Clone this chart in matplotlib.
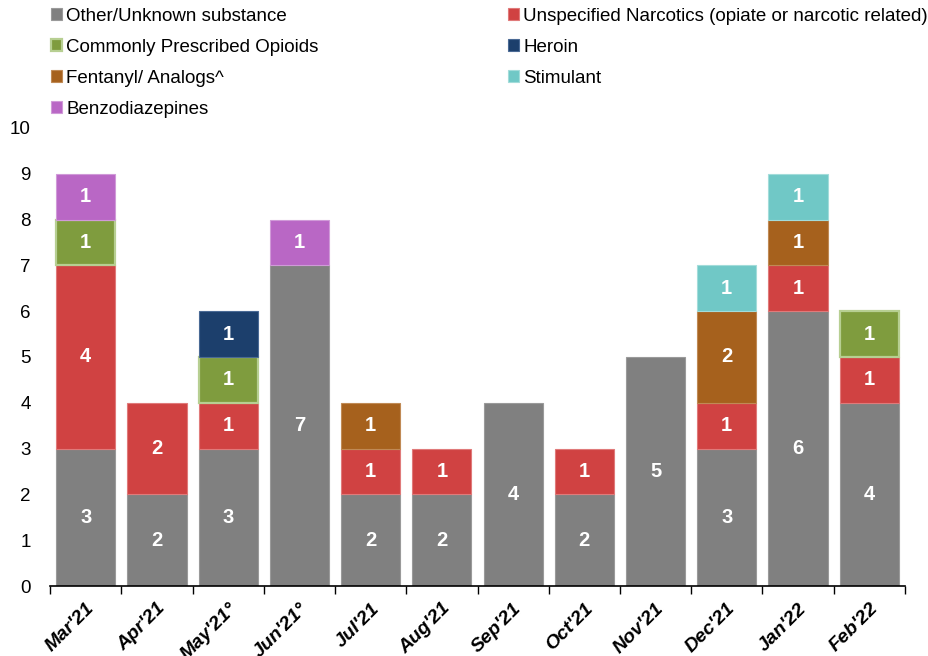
import matplotlib
matplotlib.use("Agg")
import matplotlib.pyplot as plt
import numpy as np
from matplotlib.patches import Patch

plt.rcParams['font.family'] = ['Liberation Sans', 'DejaVu Sans']

months = ["Mar'21", "Apr'21", "May'21°", "Jun'21°", "Jul'21", "Aug'21",
          "Sep'21", "Oct'21", "Nov'21", "Dec'21", "Jan'22", "Feb'22"]

other      = [3, 2, 3, 7, 2, 2, 4, 2, 5, 3, 6, 4]
unspec     = [4, 2, 1, 0, 1, 1, 0, 1, 0, 1, 1, 1]
prescribed = [1, 0, 1, 0, 0, 0, 0, 0, 0, 0, 0, 1]
heroin     = [0, 0, 1, 0, 0, 0, 0, 0, 0, 0, 0, 0]
fentanyl   = [0, 0, 0, 0, 1, 0, 0, 0, 0, 2, 1, 0]
stimulant  = [0, 0, 0, 0, 0, 0, 0, 0, 0, 1, 1, 0]
benzo      = [1, 0, 0, 1, 0, 0, 0, 0, 0, 0, 0, 0]

series_names = ["Other/Unknown substance",
                "Unspecified Narcotics (opiate or narcotic related)",
                "Commonly Prescribed Opioids", "Heroin", "Fentanyl/ Analogs^",
                "Stimulant", "Benzodiazepines"]
series_vals = [other, unspec, prescribed, heroin, fentanyl, stimulant, benzo]
colors = ["#808080", "#D04242", "#7F9C3E", "#1C3F6C", "#A6611D", "#70C8C6", "#B967C5"]
edges = ["#9a9a9a", "#e07a7a", "#b7cf92", "#4a6a95", "#c08a55", "#a3dcda", "#d09ad8"]
lws = [0.8, 0.8, 1.6, 0.8, 0.8, 0.8, 0.8]

fig = plt.figure(figsize=(9.29, 6.56), dpi=100)
ax = fig.add_axes([0.054, 0.1067, 0.92, 0.6983])

x = np.arange(len(months))
bottom = np.zeros(len(months))
handles = []
for name, vals, c, ec, lw in zip(series_names, series_vals, colors, edges, lws):
    vals = np.array(vals, dtype=float)
    mask = vals > 0
    ax.bar(x[mask], vals[mask], width=0.83, bottom=bottom[mask], color=c,
           edgecolor=ec, linewidth=lw)
    for xi, v, b in zip(x[mask], vals[mask], bottom[mask]):
        ax.text(xi, b + v / 2, f"{int(v)}", ha='center', va='center',
                color='white', fontsize=14.5, fontweight='bold')
    bottom += vals
    handles.append(Patch(facecolor=c, edgecolor=ec, linewidth=lw, label=name))

ax.set_xlim(-0.5, len(months) - 0.5)
ax.set_ylim(0, 10)
ax.set_yticks(range(0, 11))
ax.tick_params(axis='y', length=0, labelsize=13.5, pad=14)
ax.set_xticks(x)
ax.set_xticklabels(months, rotation=45, ha='right', rotation_mode='anchor',
                   fontsize=14, fontweight='bold', fontstyle='italic')
ax.tick_params(axis='x', which='major', length=0, pad=10)
ax.set_xticks(np.arange(-0.5, len(months), 1.0), minor=True)
ax.tick_params(axis='x', which='minor', length=6, width=1, color='black')
for s in ['top', 'right', 'left']:
    ax.spines[s].set_visible(False)
ax.spines['bottom'].set_linewidth(1.2)

leg_kw = dict(frameon=False, fontsize=13.5, handlelength=0.6, handleheight=0.6,
              handletextpad=0.2, labelspacing=0.75, borderpad=0, borderaxespad=0)
left_idx = [0, 2, 4, 6]
right_idx = [1, 3, 5]
fig.legend([handles[i] for i in left_idx], [series_names[i] for i in left_idx],
           loc='upper left', bbox_to_anchor=(0.055, 0.988), **leg_kw)
fig.legend([handles[i] for i in right_idx], [series_names[i] for i in right_idx],
           loc='upper left', bbox_to_anchor=(0.547, 0.988), **leg_kw)

fig.savefig("out.png", dpi=100)
